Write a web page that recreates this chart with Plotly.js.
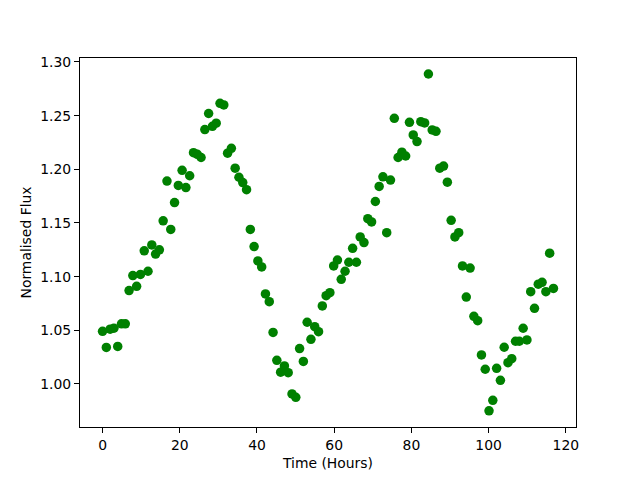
<!DOCTYPE html>
<html>
<head>
<meta charset="utf-8">
<script src="https://cdn.plot.ly/plotly-3.0.1.min.js"></script>
<style>html,body{margin:0;padding:0;background:#fff;}#chart{width:640px;height:480px;}</style>
</head>
<body>
<div id="chart"></div>
<script>
var timeHours = [
  0.00, 0.98, 1.96, 2.94, 3.93, 4.91, 5.89, 6.87, 7.85, 8.83,
  9.82, 10.80, 11.78, 12.76, 13.74, 14.72, 15.70, 16.69, 17.67, 18.65,
  19.63, 20.61, 21.59, 22.57, 23.56, 24.54, 25.52, 26.50, 27.48, 28.46,
  29.44, 30.43, 31.41, 32.39, 33.37, 34.35, 35.33, 36.32, 37.30, 38.28,
  39.26, 40.24, 41.22, 42.20, 43.19, 44.17, 45.15, 46.13, 47.11, 48.09,
  49.08, 50.06, 51.04, 52.02, 53.00, 53.98, 54.96, 55.95, 56.93, 57.91,
  58.89, 59.87, 60.85, 61.83, 62.82, 63.80, 64.78, 65.76, 66.74, 67.72,
  68.71, 69.69, 70.67, 71.65, 72.63, 73.61, 74.59, 75.58, 76.56, 77.54,
  78.52, 79.50, 80.48, 81.46, 82.44, 83.43, 84.41, 85.39, 86.37, 87.35,
  88.33, 89.32, 90.30, 91.28, 92.26, 93.24, 94.22, 95.21, 96.19, 97.17,
  98.15, 99.13, 100.11, 101.09, 102.08, 103.06, 104.04, 105.02, 106.00, 106.98,
  107.96, 108.95, 109.93, 110.91, 111.89, 112.87, 113.85, 114.84, 115.82, 116.80
];
var normalisedFlux = [
  1.049, 1.034, 1.051, 1.052, 1.035, 1.056, 1.056, 1.087, 1.101, 1.091,
  1.102, 1.124, 1.105, 1.1295, 1.121, 1.125, 1.152, 1.189, 1.144, 1.169,
  1.185, 1.199, 1.183, 1.194, 1.2155, 1.214, 1.211, 1.237, 1.252, 1.240,
  1.243, 1.2615, 1.260, 1.215, 1.2195, 1.201, 1.1926, 1.1876, 1.181, 1.144,
  1.128, 1.1146, 1.109, 1.0839, 1.0767, 1.048, 1.022, 1.011, 1.0168, 1.0105,
  0.9907, 0.9876, 1.033, 1.021, 1.0575, 1.0416, 1.0534, 1.0487, 1.0727, 1.0823,
  1.085, 1.110, 1.1155, 1.0975, 1.105, 1.1134, 1.1264, 1.1134, 1.137, 1.1317,
  1.154, 1.151, 1.170, 1.184, 1.193, 1.141, 1.190, 1.2475, 1.211, 1.216,
  1.2124, 1.2438, 1.232, 1.2258, 1.2444, 1.2432, 1.2888, 1.2367, 1.2354, 1.201,
  1.203, 1.188, 1.1525, 1.137, 1.141, 1.110, 1.081, 1.108, 1.063, 1.059,
  1.027, 1.0137, 0.975, 0.9848, 1.0146, 1.0034, 1.0342, 1.0198, 1.0236, 1.0398,
  1.0398, 1.0519, 1.041, 1.086, 1.0705, 1.093, 1.0947, 1.086, 1.1218, 1.089
];
var xTicks = [0, 20, 40, 60, 80, 100, 120];
var yTicks = [1.00, 1.05, 1.10, 1.15, 1.20, 1.25, 1.30];

var font = {family: 'DejaVu Sans', size: 13.9, color: '#000'};
var trace = {
  x: timeHours,
  y: normalisedFlux,
  type: 'scatter',
  mode: 'markers',
  marker: {color: '#008000', size: 9.5, line: {width: 0}},
  hoverinfo: 'skip'
};
var axisCommon = {
  showline: true, linecolor: '#000', linewidth: 1, mirror: true,
  showgrid: false, zeroline: false,
  ticks: 'outside', ticklen: 5, tickwidth: 1, tickcolor: '#000',
  tickfont: font, tickmode: 'array'
};
var layout = {
  width: 640, height: 480,
  margin: {l: 80, r: 64, t: 58, b: 53, pad: 0},
  paper_bgcolor: '#fff', plot_bgcolor: '#fff',
  font: font,
  showlegend: false,
  xaxis: Object.assign({}, axisCommon, {
    range: [-5.84, 122.64],
    tickvals: xTicks,
    ticktext: xTicks.map(function(v){return String(v);}),
    title: {text: 'Time (Hours)', font: font, standoff: 6}
  }),
  yaxis: Object.assign({}, axisCommon, {
    range: [0.9599, 1.3037],
    tickvals: yTicks,
    ticktext: yTicks.map(function(v){return v.toFixed(2);}),
    title: {text: 'Normalised Flux', font: font, standoff: 5}
  })
};
Plotly.newPlot('chart', [trace], layout, {displayModeBar: false, staticPlot: true});
</script>
</body>
</html>
